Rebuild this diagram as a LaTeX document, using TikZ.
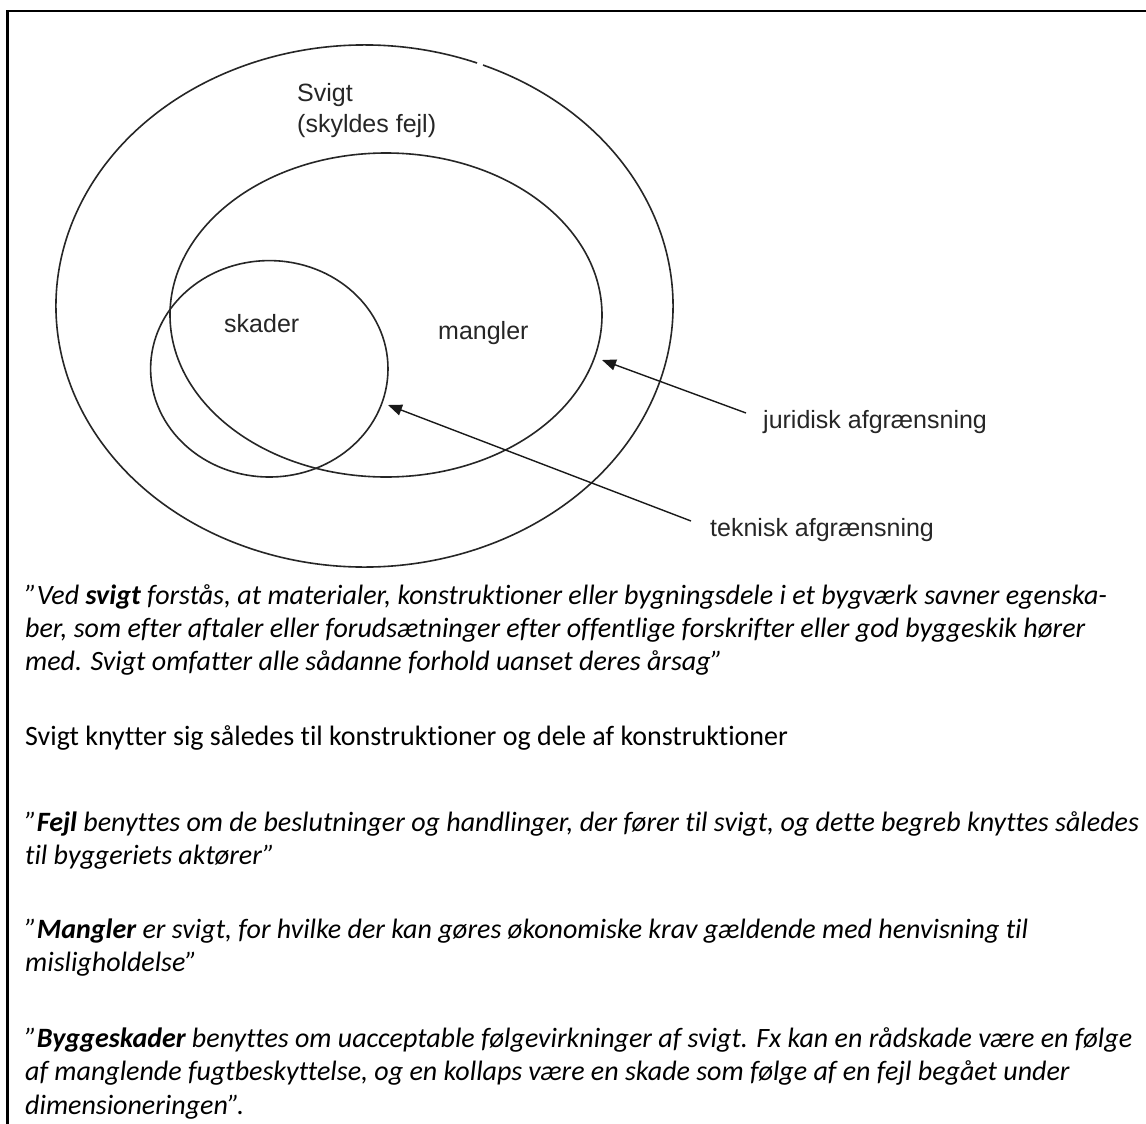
\documentclass[tikz,border=0pt]{standalone}
\usepackage{fontspec}
\setmainfont{Carlito}[Ligatures=NoCommon]
\newfontfamily\arialfont{Liberation Sans}
\usetikzlibrary{arrows.meta}
\begin{document}
\begin{tikzpicture}[x=1pt,y=1pt,
  ring/.style={line width=1.6pt, draw=black!85},
  arr/.style={line width=1.4pt, draw=black!90, -{Triangle[length=14pt,width=11pt]}},
  lbl/.style={font=\arialfont\fontsize{25}{30}\selectfont, text=black!85, inner sep=0pt, anchor=base west},
  body/.style={font=\fontsize{28}{33}\selectfont, inner sep=0pt, anchor=base west},
  quote/.style={body, font=\fontsize{28}{33}\selectfont\itshape},
]
\useasboundingbox (0,0) rectangle (1146,-1124);
\fill[white] (0,0) rectangle (1146,-1124);
\draw[line width=2.5pt] (7.5,-1124) -- (7.5,-11) -- (1146,-11);

% ellipses
\draw[ring] (364.5,-306) ++(68.6:308.5 and 261) arc[start angle=68.6, end angle=427.4, x radius=308.5, y radius=261];
\draw[ring] (386,-315) ellipse [x radius=216, y radius=162];
\draw[ring] (269.3,-368.8) ellipse [x radius=118.7, y radius=108.2];

% labels
\node[lbl] (svigt) at (297,-101) {Svigt};
\node[lbl] (skyld) at (297,-132) {(skyldes fejl)};
\node[lbl] (skader) at (224,-332) {skader};
\node[lbl] (mangler) at (438,-339.5) {mangler};
\node[lbl] (jur) at (763,-428.5) {juridisk afgrænsning};
\node[lbl] (tek) at (710,-536.5) {teknisk afgrænsning};

% arrows
\coordinate (jtip) at (602,-360);
\coordinate (jtail) at (746,-413);
\coordinate (ttip) at (388,-405);
\coordinate (ttail) at (691,-521);
\draw[arr] (jtail) -- (jtip);
\draw[arr] (ttail) -- (ttip);

% text
\node[quote] (l1) at (25,-604) {”Ved \textbf{svigt} forstås, at materialer, konstruktioner eller bygningsdele i et bygværk savner egenska-};
\node[quote] (l2) at (25,-637) {ber, som efter aftaler eller forudsætninger efter offentlige forskrifter eller god byggeskik hører};
\node[quote] (l3) at (25,-670) {med. Svigt omfatter alle sådanne forhold uanset deres årsag”};
\node[body] (l4) at (25,-745) {Svigt knytter sig således til konstruktioner og dele af konstruktioner};
\node[quote] (l5) at (25,-831) {”\textbf{Fejl} benyttes om de beslutninger og handlinger, der fører til svigt, og dette begreb knyttes således};
\node[quote] (l6) at (25,-864) {til byggeriets aktører”};
\node[quote] (l7) at (25,-938) {”\textbf{Mangler} er svigt, for hvilke der kan gøres økonomiske krav gældende med henvisning til};
\node[quote] (l8) at (25,-971) {misligholdelse”};
\node[quote] (l9) at (25,-1047) {”\textbf{Byggeskader} benyttes om uacceptable følgevirkninger af svigt. Fx kan en rådskade være en følge};
\node[quote] (l10) at (25,-1080) {af manglende fugtbeskyttelse, og en kollaps være en skade som følge af en fejl begået under};
\node[quote] (l11) at (25,-1114) {dimensioneringen”.};
\end{tikzpicture}
\end{document}
